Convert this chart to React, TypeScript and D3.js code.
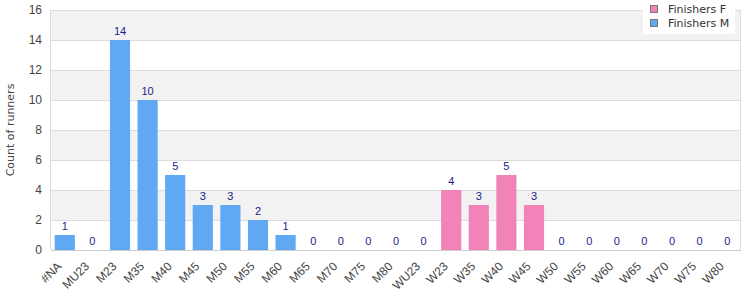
import React from "react";
import * as d3 from "d3";

const categories = ["#NA","MU23","M23","M35","M40","M45","M50","M55","M60","M65","M70","M75","M80","WU23","W23","W35","W40","W45","W50","W55","W60","W65","W70","W75","W80"];
const seriesM = [1,0,14,10,5,3,3,2,1,0,0,0,0,0,null,null,null,null,0,0,0,0,0,0,0];
const seriesF = [null,null,null,null,null,null,null,null,null,null,null,null,null,null,4,3,5,3,null,null,null,null,null,null,null];
const yTicks = [0,2,4,6,8,10,12,14,16];
const seriesNames = ["Finishers F","Finishers M"];
const colors = { F: "#f283b9", M: "#60a8f2" };

const W = 750, H = 300;
const left = 51, right = 741, top = 10, bottom = 250;
const font = "DejaVu Sans, Verdana, sans-serif";
const font2 = "Liberation Sans, Arial, sans-serif";

export default function App() {
  const x = d3.scaleBand<string>().domain(categories).range([left, right]).paddingInner(0.27).paddingOuter(0.135);
  const y = d3.scaleLinear().domain([0, 16]).range([bottom, top]);
  const bw = x.bandwidth();
  const bars: { cat: string; v: number; c: string }[] = [];
  categories.forEach((c, i) => {
    const m = seriesM[i];
    const f = seriesF[i];
    if (f != null) bars.push({ cat: c, v: f, c: colors.F });
    else if (m != null) bars.push({ cat: c, v: m, c: colors.M });
  });
  const bands = yTicks.slice(0, -1).map((t, i) => ({ t0: t, t1: yTicks[i + 1], gray: i % 2 === 1 }));
  return (
    <svg width={W} height={H} style={{ position: "absolute", left: 0, top: 0 }} fontFamily={font}>
      <rect x={0} y={0} width={W} height={H} fill="#fff" />
      {bands.map((b, i) => (
        <rect key={i} x={left} y={y(b.t1)} width={right - left} height={y(b.t0) - y(b.t1)} fill={b.gray ? "#f2f2f2" : "#ffffff"} />
      ))}
      {yTicks.map((t) => (
        <line key={t} x1={left} x2={right} y1={y(t) + 0.5} y2={y(t) + 0.5} stroke="#dcdcdc" />
      ))}
      <line x1={left - 0.5} x2={left - 0.5} y1={top} y2={bottom} stroke="#dcdcdc" />
      <line x1={right - 0.5} x2={right - 0.5} y1={top} y2={bottom} stroke="#dcdcdc" />
      {yTicks.map((t) => (
        <text key={t} x={42} y={y(t)} dy="0.35em" textAnchor="end" fontSize={12} fontFamily={font2} fill="#444">{t}</text>
      ))}
      <text transform={`translate(10,${(top + bottom) / 2}) rotate(-90)`} textAnchor="middle" dy="0.35em" fontSize={11} fill="#444">Count of runners</text>
      {bars.map((b) => (
        <g key={b.cat}>
          {b.v > 0 && <rect x={x(b.cat)!} y={y(b.v)} width={bw} height={y(0) - y(b.v)} fill={b.c} />}
          <text x={x(b.cat)! + bw / 2} y={y(b.v) - 5} textAnchor="middle" fontSize={11} fontFamily={font2} fill="#1c1c8a">{b.v}</text>
        </g>
      ))}
      <line x1={left} x2={right} y1={bottom + 0.5} y2={bottom + 0.5} stroke="#cfcfcf" />
      {categories.map((c) => (
        <text key={c} transform={`translate(${x(c)! + bw / 2 - 5.5},${bottom + 14}) rotate(-45)`} textAnchor="end" dy="0.35em" fontSize={12} fontFamily={font2} fill="#444">{c}</text>
      ))}
      <rect x={643} y={0} width={92} height={34} fill="#fff" />
      {seriesNames.map((n, i) => (
        <g key={n}>
          <rect x={650.5} y={5.5 + i * 14} width={7} height={7} fill={i === 0 ? colors.F : colors.M} stroke="#777" />
          <text x={668} y={9 + i * 14} dy="0.35em" fontSize={11} fill="#333">{n}</text>
        </g>
      ))}
    </svg>
  );
}
